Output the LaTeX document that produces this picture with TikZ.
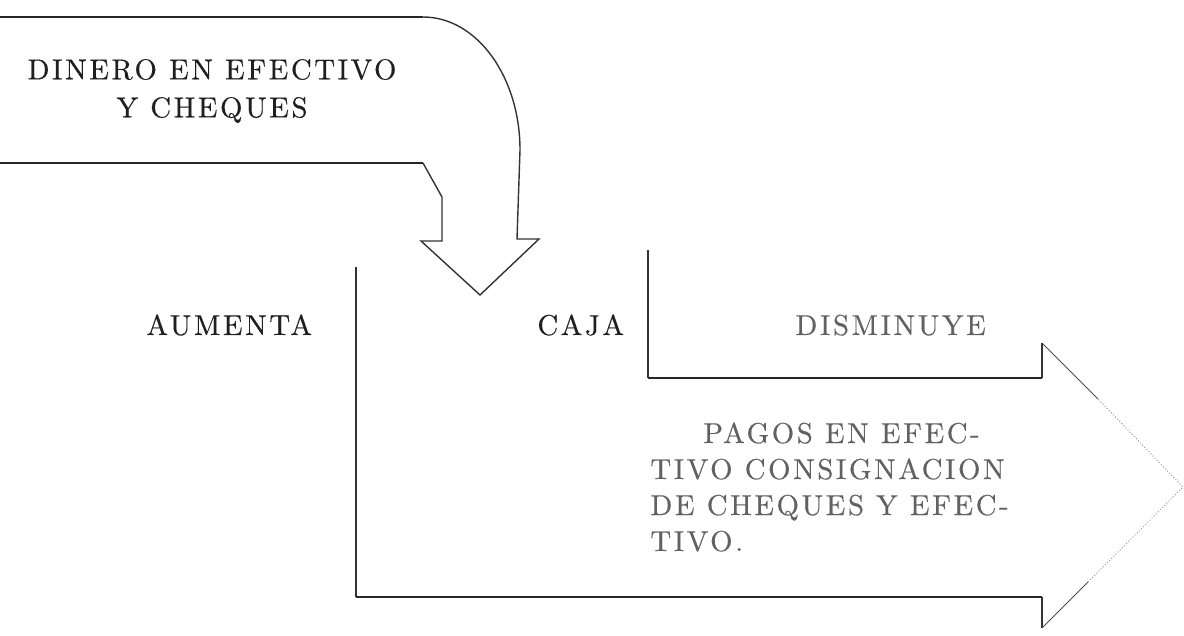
\documentclass[tikz,border=0pt]{standalone}
\usepackage{fontspec}
\newfontfamily\scanfont{lmroman10-regular}[Extension=.otf, LetterSpace=9, FakeBold=0.4]
\begin{document}
\begin{tikzpicture}[x=0.5pt,y=-0.5pt,
  lbl/.style={font=\scanfont\fontsize{14.4pt}{19pt}\selectfont, inner sep=0pt, text=black!88},
  faint/.style={lbl, text=black!62},
  heavy/.style={line width=1.2pt, draw=black!85},
  medium/.style={line width=0.9pt, draw=black!80},
  light/.style={line width=0.7pt, draw=black!80},
  fade/.style={line width=0.5pt, draw=black!40, densely dotted}]
\useasboundingbox (0,0) rectangle (1184,636);
% top curved arrow
\coordinate (tA) at (0,17);
\coordinate (tB) at (423,17);
\coordinate (tC) at (520,150);
\coordinate (tD) at (517,239);
\coordinate (hR) at (539,239);
\coordinate (hT) at (480,295);
\coordinate (hL) at (421,241);
\coordinate (sB) at (442,241);
\coordinate (sM) at (442,197);
\coordinate (sD) at (423,163);
\coordinate (bA) at (0,163);
\draw[heavy] (tA) -- (tB);
\draw[light, line join=miter] (tB) .. controls (477,17) and (520,77) .. (tC) -- (tD) -- (hR) -- (hT) -- (hL) -- (sB) -- (sM) -- (sD);
\draw[heavy] (sD) -- (bA);
% T account and right arrow
\coordinate (vL1) at (356,267);
\coordinate (vL2) at (356,597);
\coordinate (bR) at (1042,597);
\coordinate (nL) at (1042,628);
\coordinate (l1) at (1088,582);
\coordinate (tip) at (1183,487);
\coordinate (u1) at (1098,399);
\coordinate (nU) at (1042,343);
\coordinate (mR) at (1042,378);
\coordinate (mL) at (648,378);
\coordinate (vR) at (648,250);
\draw[medium] (vL1) -- (vL2);
\draw[heavy] (vL2) -- (bR);
\draw[light] (bR) -- (nL);
\draw[line width=0.5pt, draw=black!70] (nL) -- (l1);
\draw[fade] (l1) -- (tip) -- (u1);
\draw[line width=0.5pt, draw=black!70] (u1) -- (nU);
\draw[light] (nU) -- (mR);
\draw[heavy] (mR) -- (mL);
\draw[medium] (mL) -- (vR);
% labels
\node[lbl, align=center] (dinero) at (212,91) {DINERO EN EFECTIVO\\Y CHEQUES};
\node[lbl, anchor=base west] (aumenta) at (146,335) {AUMENTA};
\node[lbl, anchor=base west] (caja) at (537,335) {CAJA};
\node[faint, anchor=base west] (disminuye) at (795,335) {DISMINUYE};
\node[faint, font=\scanfont\fontsize{14.4pt}{18pt}\selectfont, align=left, anchor=north west] (pagos) at (650,422)
  {\hspace*{26.5pt}PAGOS EN EFEC-\\TIVO CONSIGNACION\\DE CHEQUES Y EFEC-\\TIVO.};
\end{tikzpicture}
\end{document}
